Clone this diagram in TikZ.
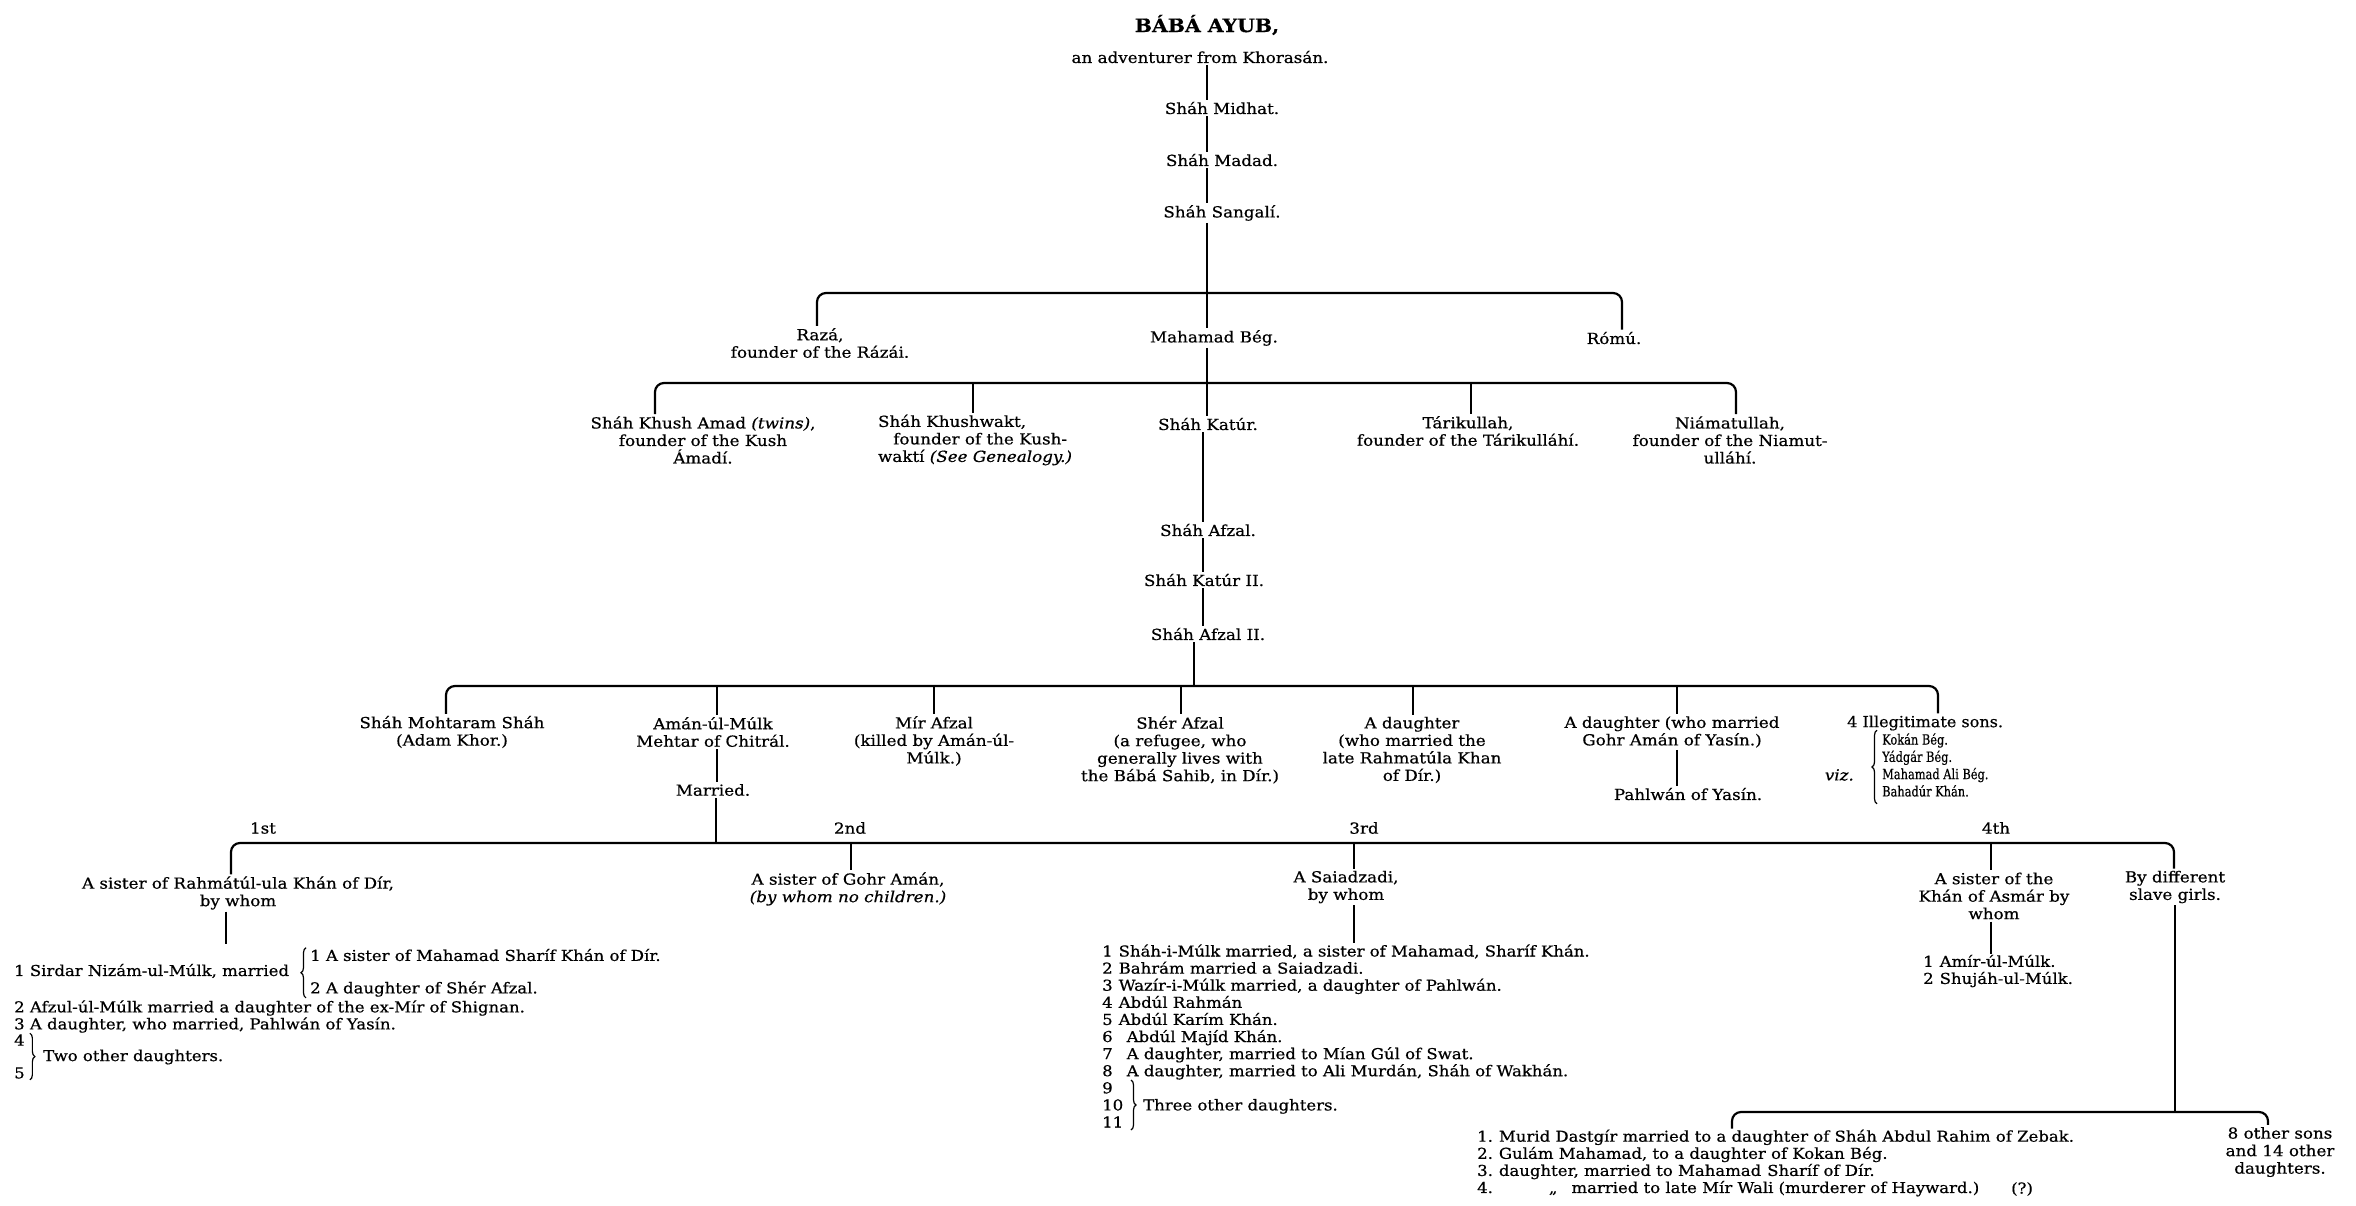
\documentclass[tikz,border=0pt]{standalone}
\usepackage{fontspec}
\usepackage{graphicx}
\setmainfont{DejaVu Serif}[FakeStretch=1.1, FakeBold=0.6]
\usetikzlibrary{decorations.pathreplacing}

\def\barwidth{2.2pt}
\newcommand\namesize{\fontsize{15.2}{17.5}\selectfont}
\newcommand\listsize{\fontsize{15}{17.1}\selectfont}
\newcommand\narrow[2]{\scalebox{#1}[1]{#2}}

\tikzset{
  person/.style={inner sep=2pt, align=center, font=\namesize},
  entry/.style={inner sep=1pt, anchor=west, align=left, font=\listsize},
  stem/.style={line width=\barwidth},
  thinstem/.style={line width=1.4pt},
  bar/.style={line width=\barwidth, rounded corners=9pt},
  curly/.style={decorate, decoration={brace, amplitude=5pt}, line width=1.2pt}
}

\begin{document}
\begin{tikzpicture}[x=1pt, y=-1pt]
  \useasboundingbox (0,0) rectangle (2356,1205);

  % Baba Ayub down to Shah Sangali
  \node[person, font=\fontsize{18.5}{22}\selectfont\bfseries] (baba) at (1207,25) {BÁBÁ AYUB,};
  \node[person] (advent) at (1200,57) {an adventurer from Khorasán.};
  \node[person] (midhat) at (1222,108) {Sháh Midhat.};
  \node[person] (madad) at (1222,160) {Sháh Madad.};
  \node[person] (sangali) at (1222,213) {Sháh Sangalí.};
  \coordinate (topx) at (1207,0);
  \foreach \up/\dn in {advent/midhat, midhat/madad, madad/sangali}
    \draw[stem] (\up.south -| topx) -- (\dn.north -| topx);

  % sons of Shah Sangali
  \node[person] (raza) at (820,343) {Razá,\\founder of the Rázái.};
  \node[person] (mahamad) at (1214,338) {Mahamad Bég.};
  \node[person] (romu) at (1614,338) {Rómú.};
  \coordinate (barAl) at (817,293);
  \coordinate (barAm) at (1207,293);
  \coordinate (barAr) at (1622,293);
  \draw[bar] (raza.north -| barAl) -- (barAl) -- (barAr) -- (romu.north -| barAr);
  \draw[stem] (sangali.south -| barAm) -- (barAm) -- (mahamad.north -| barAm);

  % sons of Mahamad Beg
  \node[person] (khushamad) at (703,440) {Sháh Khush Amad \textit{(twins)},\\founder of the Kush\\Ámadí.};
  \node[person, align=left] (khushwakt) at (975,440) {Sháh Khushwakt,\\\hspace*{1em}founder of the Kush-\\waktí \textit{(See Genealogy.)}};
  \node[person] (katur) at (1208,424) {Sháh Katúr.};
  \node[person] (tarik) at (1468,431) {Tárikullah,\\founder of the Tárikulláhí.};
  \node[person] (niamat) at (1730,440) {Niámatullah,\\founder of the Niamut-\\ulláhí.};
  \coordinate (barBl) at (655,383);
  \coordinate (barBm) at (1207,383);
  \coordinate (barBr) at (1736,383);
  \draw[bar] (khushamad.north -| barBl) -- (barBl) -- (barBr) -- (niamat.north -| barBr);
  \draw[stem] (mahamad.south -| barBm) -- (barBm) -- (katur.north -| barBm);
  \foreach \n/\x in {khushwakt/973, tarik/1471} {
    \coordinate (top-\n) at (\x,383);
    \draw[stem] (top-\n) -- (\n.north -| top-\n);
  }

  % Shah Katur down to Shah Afzal II
  \node[person] (afzal) at (1208,530) {Sháh Afzal.};
  \node[person] (katurii) at (1204,580) {Sháh Katúr II.};
  \node[person] (afzalii) at (1208,634) {Sháh Afzal II.};
  \coordinate (midx) at (1203,0);
  \foreach \up/\dn in {katur/afzal, afzal/katurii, katurii/afzalii}
    \draw[stem] (\up.south -| midx) -- (\dn.north -| midx);

  % children of Shah Afzal II
  \node[person] (mohtaram) at (452,732) {Sháh Mohtaram Sháh\\(Adam Khor.)};
  \node[person] (aman) at (713,732) {Amán-úl-Múlk\\Mehtar of Chitrál.};
  \node[person] (married) at (713,790) {Married.};
  \node[person] (mirafzal) at (934,741) {Mír Afzal\\(killed by Amán-úl-\\Múlk.)};
  \node[person] (sherafzal) at (1180,750) {Shér Afzal\\(a refugee, who\\generally lives with\\the Bábá Sahib, in Dír.)};
  \node[person] (daughtera) at (1412,750) {A daughter\\(who married the\\late Rahmatúla Khan\\of Dír.)};
  \node[person] (daughterb) at (1672,732) {A daughter (who married\\Gohr Amán of Yasín.)};
  \node[person] (pahlwan) at (1688,794) {Pahlwán of Yasín.};
  \node[person, anchor=west] (illeg) at (1845,723) {\narrow{0.96}{4 Illegitimate sons.}};
  \node[person, anchor=east] (viz) at (1856,775) {\textit{viz.}};
  \node[person, anchor=west, font=\fontsize{14}{17.3}\selectfont] (illsons) at (1880,767)
    {\narrow{0.74}{\begin{tabular}{@{}l@{}}Kokán Bég.\\Yádgár Bég.\\Mahamad Ali Bég.\\Bahadúr Khán.\end{tabular}}};
  \draw[curly] ([xshift=-3pt]illsons.south west) -- ([xshift=-3pt]illsons.north west);
  \coordinate (barCl) at (446,686);
  \coordinate (barCm) at (1194,686);
  \coordinate (barCr) at (1938,686);
  \draw[bar] (mohtaram.north -| barCl) -- (barCl) -- (barCr) -- (illeg.north -| barCr);
  \draw[stem] (afzalii.south -| barCm) -- (barCm);
  \foreach \n/\x in {aman/717, mirafzal/934, sherafzal/1181, daughtera/1413, daughterb/1677} {
    \coordinate (top-\n) at (\x,686);
    \draw[stem] (top-\n) -- (\n.north -| top-\n);
  }
  \draw[stem] (aman.south -| top-aman) -- (married.north -| top-aman);
  \draw[stem] (daughterb.south -| top-daughterb) -- (pahlwan.north -| top-daughterb);

  % the four marriages of Aman-ul-Mulk
  \foreach \o/\x in {1st/263, 2nd/850, 3rd/1364, 4th/1996}
    \node[person] (ord\o) at (\x,828) {\o};
  \node[person] (wifea) at (238,893) {A sister of Rahmátúl-ula Khán of Dír,\\by whom};
  \node[person] (wifeb) at (848,889) {A sister of Gohr Amán,\\\textit{(by whom no children.)}};
  \node[person] (wifec) at (1346,887) {A Saiadzadi,\\by whom};
  \node[person] (wifed) at (1994,896) {A sister of the\\Khán of Asmár by\\whom};
  \node[person] (slave) at (2175,887) {By different\\slave girls.};
  \coordinate (barDl) at (231,843);
  \coordinate (barDm) at (716,843);
  \coordinate (barDr) at (2174,843);
  \draw[bar] (wifea.north -| barDl) -- (barDl) -- (barDr) -- (slave.north -| barDr);
  \draw[stem] (married.south -| barDm) -- (barDm);
  \foreach \n/\x in {wifeb/851, wifec/1354, wifed/1991} {
    \coordinate (top-\n) at (\x,843);
    \draw[stem] (top-\n) -- (\n.north -| top-\n);
  }

  % children by the 1st wife
  \coordinate (endA) at (226,944);
  \draw[stem] (wifea.south -| endA) -- (endA);
  \node[entry] (sirdar) at (13,971) {1 Sirdar Nizám-ul-Múlk, married};
  \node[entry] (mara) at (309,955) {1 A sister of Mahamad Sharíf Khán of Dír.};
  \node[entry] (marb) at (309,989) {2 A daughter of Shér Afzal.};
  \node[entry] (afzul) at (13,1008) {2 Afzul-úl-Múlk married a daughter of the ex-Mír of Shignan.};
  \node[entry] (dauthree) at (13,1025) {3 A daughter, who married, Pahlwán of Yasín.};
  \node[entry] (nfour) at (13,1040) {4};
  \node[entry] (nfive) at (13,1073) {5};
  \node[entry] (twoother) at (42,1057) {Two other daughters.};
  \draw[curly] ([xshift=-3pt]marb.south west) -- ([xshift=-3pt]mara.north west);
  \draw[curly] ([xshift=4pt]nfour.north east) -- ([xshift=4pt]nfive.south east);

  % children by the 3rd wife
  \node[entry] (sonsc) at (1101,1036) {1\hspace{6pt}Sháh-i-Múlk married, a sister of Mahamad, Sharíf Khán.\\
    2\hspace{6pt}Bahrám married a Saiadzadi.\\
    3\hspace{6pt}Wazír-i-Múlk married, a daughter of Pahlwán.\\
    4\hspace{6pt}Abdúl Rahmán\\
    5\hspace{6pt}Abdúl Karím Khán.\\
    6\hspace{14pt}Abdúl Majíd Khán.\\
    7\hspace{14pt}A daughter, married to Mían Gúl of Swat.\\
    8\hspace{14pt}A daughter, married to Ali Murdán, Sháh of Wakhán.\\
    9\\
    10\hspace{20pt}Three other daughters.\\
    11};
  \draw[stem] (wifec.south -| top-wifec) -- (sonsc.north -| top-wifec);
  \coordinate (bracetop) at (1131,1080);
  \coordinate (bracebot) at (1131,1130);
  \draw[curly] (bracetop) -- (bracebot);

  % children by the 4th wife
  \node[entry] (sonsd) at (1922,971) {1\hspace{6pt}Amír-úl-Múlk.\\2\hspace{6pt}Shujáh-ul-Múlk.};
  \draw[thinstem] (wifed.south -| top-wifed) -- (sonsd.north -| top-wifed);

  % children by slave girls
  \coordinate (barEl) at (1732,1112);
  \coordinate (barEm) at (2175,1112);
  \coordinate (barEr) at (2268,1112);
  \node[entry] (sonse) at (1476,1163) {1.\hspace{6pt}Murid Dastgír married to a daughter of Sháh Abdul Rahim of Zebak.\\
    2.\hspace{6pt}Gulám Mahamad, to a daughter of Kokan Bég.\\
    3.\hspace{6pt}daughter, married to Mahamad\hspace{6pt}Sharíf of Dír.\\
    4.\hspace{56pt}„\hspace{14pt}married to late Mír Wali (murderer of Hayward.)};
  \node[entry] (query) at (2010,1189) {(?)};
  \node[person] (others) at (2280,1152) {8 other sons\\and 14 other\\daughters.};
  \draw[thinstem] (slave.south -| barEm) -- (barEm);
  \draw[bar] (sonse.north -| barEl) -- (barEl) -- (barEr) -- (others.north -| barEr);
\end{tikzpicture}
\end{document}
